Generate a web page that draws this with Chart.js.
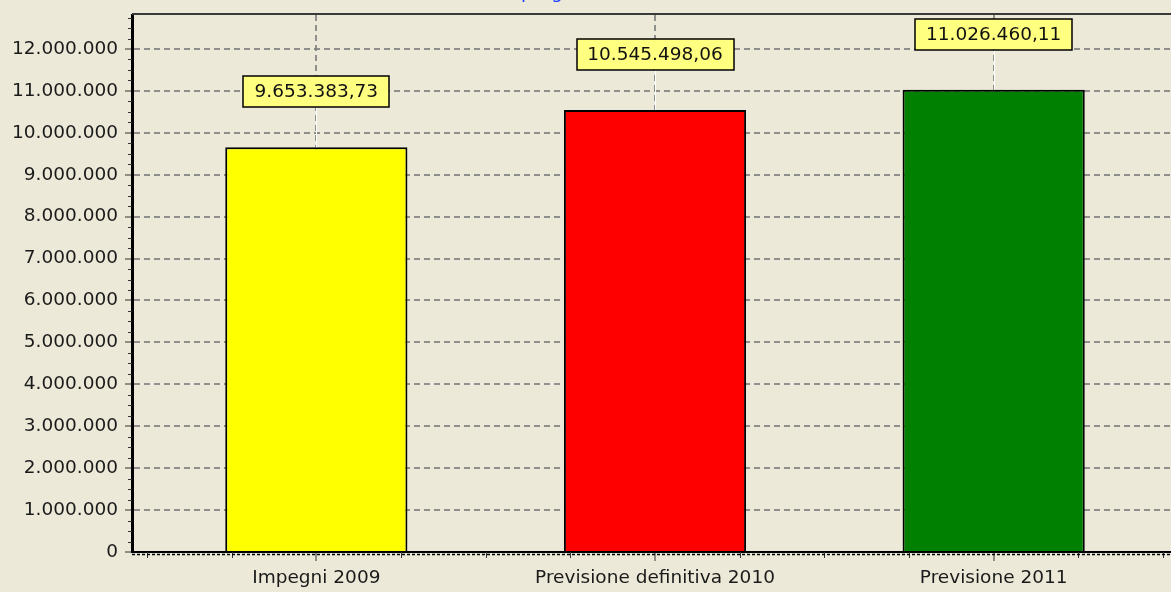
<!DOCTYPE html>
<html>
<head>
<meta charset="utf-8">
<script src="https://cdn.jsdelivr.net/npm/chart.js@4"></script>
<style>
  html, body { margin: 0; padding: 0; overflow: hidden; background: #ece9d8; }
  canvas { display: block; }
</style>
</head>
<body>
<canvas id="grafico" width="1200" height="592"></canvas>
<script>
// Dati del grafico
const categorie = ['Impegni 2009', 'Previsione definitiva 2010', 'Previsione 2011'];
const valori = [9653383.73, 10545498.06, 11026460.11];
const coloriBarre = ['#ffff00', '#ff0000', '#008000'];
const tickAsseY = [0, 1000000, 2000000, 3000000, 4000000, 5000000, 6000000,
                   7000000, 8000000, 9000000, 10000000, 11000000, 12000000];
const titolo = 'programma';

const FONT = '"DejaVu Sans", Verdana, sans-serif';
const coloreGriglia = 'rgba(120,120,120,0.8)';

// Formato italiano: 12.000.000 / 9.653.383,73
function formatta(v, decimali) {
  const parti = Number(v).toFixed(decimali).split('.');
  const intero = parti[0].replace(/\B(?=(\d{3})+(?!\d))/g, '.');
  return parti[1] ? intero + ',' + parti[1] : intero;
}

// Etichette gialle sopra le barre
const etichette = {
  id: 'etichette',
  afterDatasetsDraw(chart) {
    const ctx = chart.ctx;
    const meta = chart.getDatasetMeta(0);
    ctx.save();
    ctx.font = '18.5px ' + FONT;
    meta.data.forEach((barra, i) => {
      const testo = formatta(valori[i], 2);
      const w = Math.round(ctx.measureText(testo).width + 22);
      const h = 31;
      const base = Math.round(barra.y) - 40;
      const cx = Math.round(barra.x) + 0.5;
      // linea bianca di collegamento
      ctx.strokeStyle = '#ffffff';
      ctx.lineWidth = 1;
      ctx.beginPath();
      ctx.moveTo(cx, barra.y);
      ctx.lineTo(cx, base);
      ctx.stroke();
      // riquadro
      const x0 = Math.round(barra.x - w / 2);
      ctx.fillStyle = '#ffff80';
      ctx.fillRect(x0, base - h, w, h);
      ctx.strokeStyle = '#000';
      ctx.lineWidth = 1.5;
      ctx.strokeRect(x0, base - h, w, h);
      ctx.fillStyle = '#111';
      ctx.textAlign = 'center';
      ctx.textBaseline = 'middle';
      ctx.fillText(testo, barra.x, base - h / 2 + 1);
    });
    ctx.restore();
  }
};

// Bordo superiore, tacche secondarie, titolo tagliato
const decorazioni = {
  id: 'decorazioni',
  afterDraw(chart) {
    const ctx = chart.ctx;
    const a = chart.chartArea;
    const x = chart.scales.x;
    const y = chart.scales.y;
    ctx.save();
    ctx.strokeStyle = '#3a3a3a';
    ctx.lineWidth = 2;
    ctx.beginPath();
    ctx.moveTo(a.left, a.top - 1);
    ctx.lineTo(chart.width, a.top - 1);
    ctx.stroke();

    ctx.strokeStyle = '#333';
    ctx.lineWidth = 1;
    for (let v = 250000; v < y.max; v += 250000) {
      if (v % 1000000 === 0) continue;
      const py = Math.round(y.getPixelForValue(v)) + 0.5;
      ctx.beginPath();
      ctx.moveTo(a.left - 4, py);
      ctx.lineTo(a.left, py);
      ctx.stroke();
    }
    for (let v = -0.5; v <= categorie.length - 0.5; v += 0.25) {
      if (Number.isInteger(v)) continue;
      const px = Math.round(x.getPixelForValue(v)) + 0.5;
      ctx.beginPath();
      ctx.moveTo(px, a.bottom);
      ctx.lineTo(px, a.bottom + 6);
      ctx.stroke();
    }

    ctx.setLineDash([3, 2]);
    ctx.lineWidth = 1.5;
    ctx.strokeStyle = '#000';
    ctx.beginPath();
    ctx.moveTo(a.left, a.bottom + 2.5);
    ctx.lineTo(chart.width, a.bottom + 2.5);
    ctx.stroke();
    ctx.setLineDash([]);

    ctx.fillStyle = '#2040ff';
    ctx.font = '18.5px ' + FONT;
    ctx.textAlign = 'left';
    ctx.textBaseline = 'alphabetic';
    ctx.fillText(titolo, 521, -2);
    ctx.restore();
  }
};

new Chart(document.getElementById('grafico'), {
  type: 'bar',
  data: {
    datasets: [{
      data: valori.map((v, i) => ({ x: i, y: v })),
      backgroundColor: coloriBarre,
      borderColor: '#000',
      borderWidth: 2,
      barPercentage: 0.538,
      categoryPercentage: 1
    }]
  },
  options: {
    responsive: false,
    animation: false,
    layout: { padding: { top: 15, right: 22, left: 0, bottom: 0 } },
    plugins: {
      legend: { display: false },
      tooltip: { enabled: false }
    },
    scales: {
      x: {
        type: 'linear',
        offset: false,
        min: -0.5443,
        max: categorie.length - 0.4557,
        afterBuildTicks: s => { s.ticks = categorie.map((c, i) => ({ value: i })); },
        afterFit: s => { s.height = 40; s.paddingLeft = 0; s.paddingRight = 0; },
        ticks: {
          callback: v => categorie[v],
          font: { family: FONT, size: 18.5 },
          color: '#1a1a1a',
          padding: 6,
          maxRotation: 0,
          autoSkip: false
        },
        grid: {
          offset: false,
          color: coloreGriglia,
          lineWidth: 2,
          tickLength: 9,
          tickColor: '#333',
          tickWidth: 1
        },
        border: { color: '#000', width: 2, dash: [6, 4] }
      },
      y: {
        min: 0,
        max: 12811000,
        afterBuildTicks: s => { s.ticks = tickAsseY.map(v => ({ value: v })); },
        afterFit: s => { s.width = 132; s.paddingTop = 0; s.paddingBottom = 0; },
        ticks: {
          callback: v => formatta(v, 0),
          font: { family: FONT, size: 18.5 },
          color: '#1a1a1a',
          padding: 7
        },
        grid: {
          color: coloreGriglia,
          lineWidth: 2,
          tickLength: 7,
          tickColor: '#333',
          tickWidth: 1
        },
        border: { color: '#000', width: 3, dash: [6, 4] }
      }
    }
  },
  plugins: [etichette, decorazioni]
});
</script>
</body>
</html>
